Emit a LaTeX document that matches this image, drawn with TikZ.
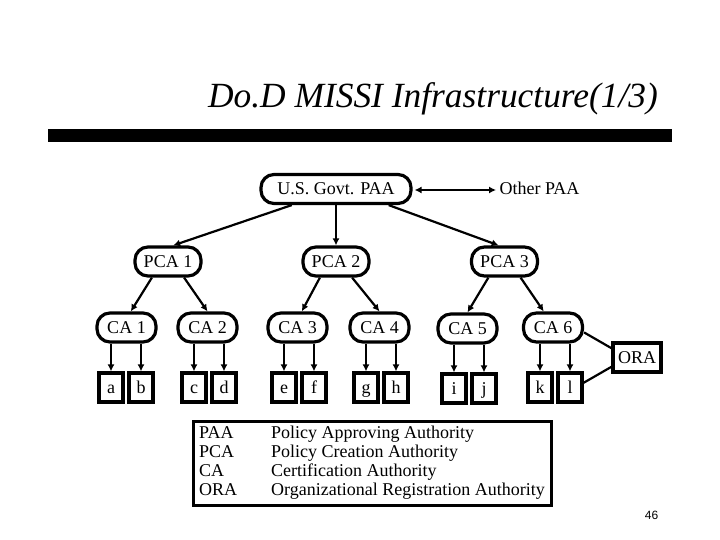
\documentclass[tikz,border=0pt]{standalone}
\usepackage{fontspec}
\setmainfont{Liberation Serif}
\newfontfamily\numfont{Liberation Sans}
\usetikzlibrary{arrows.meta}

\tikzset{
  lbl/.style={text height=13pt,text depth=2pt},
  pnode/.style={draw,lbl,line width=3.2pt,rounded corners=13pt,minimum height=29pt,inner sep=0pt},
  paa/.style={pnode,minimum width=150pt},
  pca/.style={pnode,minimum width=66pt},
  ca/.style={pnode,minimum width=59pt},
  leaf/.style={draw,lbl,line width=3.2pt,minimum width=24pt,minimum height=29pt,inner sep=0pt},
  conn/.style={line width=2.2pt},
  arr/.style={conn,-{Latex[length=7pt,width=7pt]}},
}

\begin{document}
\begin{tikzpicture}[x=1pt,y=-1pt,font=\fontsize{18}{19}\selectfont]
\useasboundingbox (0,0) rectangle (720,540);

\node (title) at (433,99) {\fontsize{35.4}{36}\selectfont\itshape Do.D MISSI Infrastructure(1/3)};
\fill (48,129) rectangle (672,142);

\node[paa] (usgovt) at (336,189) {U.S. Govt. PAA};
\node[lbl] (other) at (539.5,189) {Other PAA};

\node[pca] (pca1) at (168,261.5) {PCA 1};
\node[pca] (pca2) at (336,261.5) {PCA 2};
\node[pca] (pca3) at (504.5,261.5) {PCA 3};

\node[ca] (ca1) at (126.5,327.5) {CA 1};
\node[ca] (ca2) at (207.5,327.5) {CA 2};
\node[ca] (ca3) at (297.5,327.5) {CA 3};
\node[ca] (ca4) at (379.5,327.5) {CA 4};
\node[ca] (ca5) at (467.5,328.5) {CA 5};
\node[ca] (ca6) at (553,327.5) {CA 6};

\node[leaf] (a) at (111,387.5) {a};
\node[leaf] (b) at (141,387.5) {b};
\node[leaf] (c) at (194,387.5) {c};
\node[leaf] (d) at (224,387.5) {d};
\node[leaf] (e) at (284,387.5) {e};
\node[leaf] (f) at (314,387.5) {f};
\node[leaf] (g) at (366,387.5) {g};
\node[leaf] (h) at (396,387.5) {h};
\node[leaf] (i) at (454,388.5) {i};
\node[leaf] (j) at (484,388.5) {j};
\node[leaf] (k) at (540,387.5) {k};
\node[leaf] (l) at (570,387.5) {l};
\node[leaf,minimum width=48pt] (ora) at (637,357.5) {ORA};

\draw[conn,{Latex[length=7pt,width=7pt]}-{Latex[length=7pt,width=7pt]}] (usgovt.east) ++(2,1) -- (other.west |- 0,190);

\draw[arr] (usgovt.200) -- (pca1.72);
\draw[arr] (usgovt) ++(0,15) -- (pca2.north);
\draw[arr] (usgovt.-17) -- (pca3.110);

\draw[arr] (pca1.-135) -- (ca1.75);
\draw[arr] (pca1.-45) -- (ca2.north);
\draw[arr] (pca2.-135) -- (ca3.75);
\draw[arr] (pca2.-45) -- (ca4.north);
\draw[arr] (pca3.-135) -- (ca5.north);
\draw[arr] (pca3.-45) -- (ca6.120);

\draw[arr] (a.north |- ca1.south) -- (a.north);
\draw[arr] (b.north |- ca1.south) -- (b.north);
\draw[arr] (c.north |- ca2.south) -- (c.north);
\draw[arr] (d.north |- ca2.south) -- (d.north);
\draw[arr] (e.north |- ca3.south) -- (e.north);
\draw[arr] (f.north |- ca3.south) -- (f.north);
\draw[arr] (g.north |- ca4.south) -- (g.north);
\draw[arr] (h.north |- ca4.south) -- (h.north);
\draw[arr] (i.north |- ca5.south) -- (i.north);
\draw[arr] (j.north |- ca5.south) -- (j.north);
\draw[arr] (k.north |- ca6.south) -- (k.north);
\draw[arr] (l.north |- ca6.south) -- (l.north);

\draw[conn] (ca6.-9) -- (ora.160);
\draw[conn] (l.19) -- (ora.200);

\node[draw,line width=3.2pt,inner sep=0pt,minimum width=358pt,minimum height=84pt] (legend) at (372.5,463.5) {%
  \hspace{-1pt}\raisebox{-2.5pt}{\begin{tabular}{@{}p{72pt}@{}l@{}}
  PAA & Policy Approving Authority\\
  PCA & Policy Creation Authority\\
  CA & Certification Authority\\
  ORA & Organizational Registration Authority
  \end{tabular}}};

\node (page) at (651.5,515) {\numfont\fontsize{12}{12}\selectfont 46};
\end{tikzpicture}
\end{document}
